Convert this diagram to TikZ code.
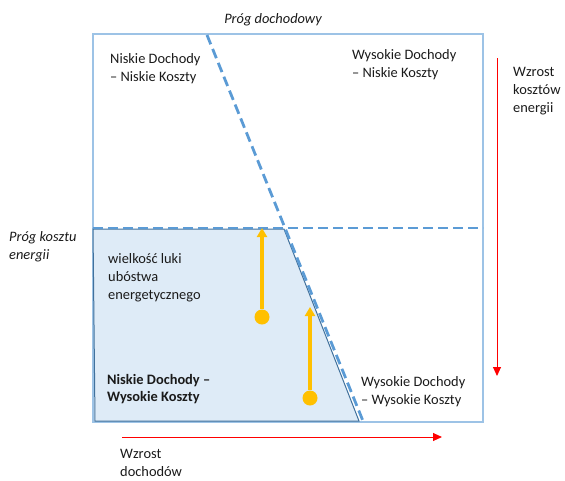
\documentclass[tikz,border=0pt]{standalone}
\usepackage{fontspec}
\setmainfont{Carlito}
\usetikzlibrary{arrows.meta}
\definecolor{boxblue}{HTML}{9DC3E6}
\definecolor{dashblue}{HTML}{5B9BD5}
\definecolor{polyfill}{HTML}{DEEBF7}
\definecolor{polyedge}{HTML}{41719C}
\definecolor{gold}{HTML}{FFC000}
\definecolor{txt}{HTML}{1A1A1A}
\tikzset{
  lbl/.style={anchor=west, align=left, inner sep=0pt, text=txt, font=\fontsize{14.4}{17.8}\selectfont},
  thr/.style={dash pattern=on 10pt off 5pt, draw=dashblue, line width=2.8pt},
  gaparrow/.style={draw=gold, line width=3.2pt, -{Triangle[length=9pt,width=10pt]}},
  dot/.style={circle, fill=gold, inner sep=0pt, minimum size=15pt},
  redarrow/.style={draw=red, line width=1pt, -{Triangle[length=9pt,width=8pt]}}
}
\begin{document}
\begin{tikzpicture}[x=1pt,y=-1pt]
\useasboundingbox (0,0) rectangle (565,480);
% outer box
\draw[boxblue, line width=1.2pt] (93,34) rectangle (483,422);
% shaded polygon
\draw[polyedge, fill=polyfill, line width=1pt] (93,229) -- (284,229) -- (359,421) -- (95,421) -- cycle;
% thresholds
\coordinate (dt) at (207,35);
\coordinate (db) at (363,421);
\draw[thr] (dt) -- (db);
\coordinate (hl) at (93,228);
\coordinate (hr) at (483,228);
\draw[thr] (hl) -- (hr);
% gap arrows
\node[dot] (d1) at (262,317) {};
\coordinate (t1) at (262,228);
\draw[gaparrow] (d1) -- (t1);
\node[dot] (d2) at (310,398) {};
\coordinate (t2) at (310,307);
\draw[gaparrow] (d2) -- (t2);
% red axes
\coordinate (ha) at (122,437);
\coordinate (hb) at (442,437);
\draw[redarrow] (ha) -- (hb);
\coordinate (va) at (497,58);
\coordinate (vb) at (497,376);
\draw[redarrow] (va) -- (vb);
% labels
\node[lbl, anchor=center, font=\fontsize{14.4}{17.8}\itshape] (pd) at (273,20) {Próg dochodowy};
\node[lbl] (ndnk) at (110,69) {Niskie Dochody\\– Niskie Koszty};
\node[lbl] (wdnk) at (352,65) {Wysokie Dochody\\– Niskie Koszty};
\node[lbl] (wke) at (513,91) {Wzrost\\kosztów\\energii};
\node[lbl, font=\fontsize{14.4}{17.8}\itshape] (pke) at (9,247) {Próg kosztu\\energii};
\node[lbl] (wl) at (108,278) {wielkość luki\\ubóstwa\\energetycznego};
\node[lbl, font=\fontsize{14.4}{17.8}\bfseries] (ndwk) at (107,389) {Niskie Dochody –\\Wysokie Koszty};
\node[lbl] (wdwk) at (361,392) {Wysokie Dochody\\– Wysokie Koszty};
\node[lbl] (wd) at (120,463) {Wzrost\\dochodów};
\end{tikzpicture}
\end{document}
